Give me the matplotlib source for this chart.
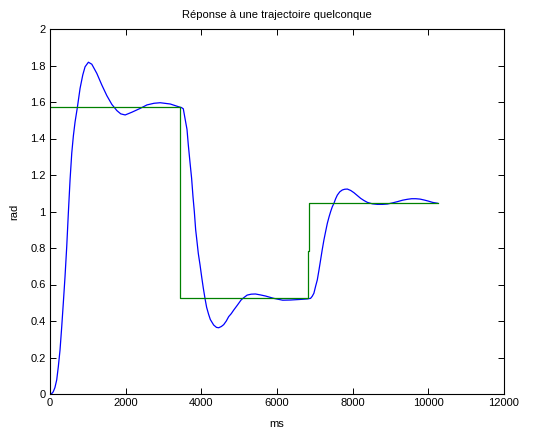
import numpy as np
import matplotlib
matplotlib.use('Agg')
import matplotlib.pyplot as plt

# réponse mesurée (ms, rad)
t_rep = [0, 61, 87, 130, 177, 220, 265, 310, 352, 397, 442, 485, 530, 575,
         618, 662, 723, 795, 866, 927, 1015, 1105, 1237, 1370, 1502, 1634, 1767,
         1870, 1987, 2164, 2384, 2562, 2750, 2914, 3179, 3399, 3470, 3523,
         3584, 3621, 3656, 3700, 3743, 3780, 3815, 3850, 3876, 3920, 3966,
         4010, 4053, 4100, 4140, 4193, 4238, 4326, 4400, 4459, 4530, 4591,
         4660, 4723, 4790, 4856, 4946, 4988, 5050, 5104, 5211, 5320, 5430,
         5560, 5695, 5915, 6150, 6358, 6600, 6800, 6887, 6930, 6975, 7020,
         7065, 7110, 7152, 7195, 7240, 7285, 7330, 7375, 7417, 7460, 7505,
         7550, 7595, 7660, 7727, 7790, 7860, 7950, 8034, 8120, 8212, 8300,
         8389, 8520, 8654, 8790, 8919, 9050, 9184, 9320, 9449, 9560, 9669,
         9780, 9889, 10000, 10111, 10244]
y_rep = [0.0, 0.005, 0.013, 0.035, 0.077, 0.150, 0.241, 0.369, 0.499, 0.643,
         0.807, 0.992, 1.173, 1.320, 1.415, 1.490, 1.570, 1.675, 1.748, 1.793,
         1.818, 1.807, 1.757, 1.693, 1.635, 1.587, 1.553, 1.535, 1.529, 1.544,
         1.565, 1.584, 1.593, 1.596, 1.589, 1.574, 1.570, 1.563, 1.492, 1.450,
         1.364, 1.270, 1.182, 1.080, 0.999, 0.900, 0.853, 0.770, 0.707, 0.640,
         0.579, 0.520, 0.475, 0.436, 0.408, 0.378, 0.365, 0.363, 0.370, 0.380,
         0.400, 0.424, 0.440, 0.460, 0.485, 0.497, 0.515, 0.525, 0.542, 0.547,
         0.548, 0.543, 0.537, 0.524, 0.514, 0.515, 0.518, 0.521, 0.524, 0.535,
         0.552, 0.590, 0.625, 0.680, 0.734, 0.790, 0.844, 0.890, 0.935, 0.970,
         0.999, 1.025, 1.045, 1.070, 1.090, 1.108, 1.118, 1.122, 1.123, 1.115,
         1.103, 1.088, 1.072, 1.060, 1.050, 1.042, 1.039, 1.039, 1.041, 1.047,
         1.054, 1.062, 1.067, 1.070, 1.070, 1.068, 1.063, 1.057, 1.050, 1.045]

# trajectoire de consigne
t_cons = [0, 3430, 3430, 6815, 6815, 6840, 6840, 10244]
y_cons = [np.pi / 2, np.pi / 2, np.pi / 6, np.pi / 6,
          np.pi / 4, np.pi / 4, np.pi / 3, np.pi / 3]

x_ticks = np.arange(0, 12001, 2000)
y_ticks = np.arange(0, 2.01, 0.2)

plt.rcParams['font.family'] = ['Liberation Sans', 'DejaVu Sans']
plt.rcParams['font.size'] = 8

fig = plt.figure(figsize=(5.34, 4.30), dpi=100)
ax = fig.add_axes([50 / 534, 36 / 430, 454 / 534, 365 / 430])

ax.plot(t_rep, y_rep, color='#0000ff', linewidth=0.9)
ax.plot(t_cons, y_cons, color='#008000', linewidth=0.9)

ax.set_xlim(0, 12000)
ax.set_ylim(0, 2)
ax.set_xticks(x_ticks)
ax.set_yticks(y_ticks)
ax.set_yticklabels(['%g' % round(v, 1) for v in y_ticks])
ax.tick_params(direction='in', top=True, right=True, length=4, width=0.7,
               labelsize=8, pad=3)
for s in ax.spines.values():
    s.set_linewidth(0.8)

ax.set_title('Réponse à une trajectoire quelconque', fontsize=8, pad=8)
ax.set_xlabel('ms', fontsize=8, labelpad=8)
ax.set_ylabel('rad', fontsize=8, labelpad=8)

fig.savefig('out.png', dpi=100)
